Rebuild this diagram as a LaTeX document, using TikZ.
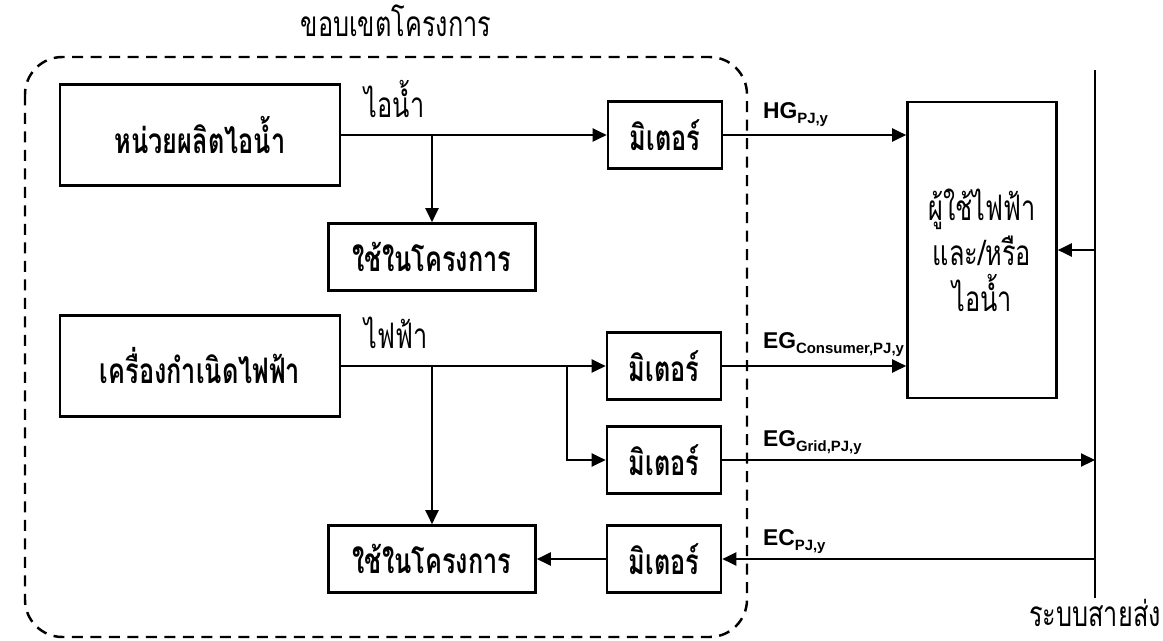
\documentclass[tikz,border=0pt]{standalone}
\usepackage{fontspec}
\setmainfont{Liberation Sans}
\newfontfamily\thaifont[Script=Thai,FakeStretch=0.72]{Loma}
\usetikzlibrary{arrows.meta}
\usetikzlibrary{calc}

\newcommand{\flowlbl}[2]{\textbf{#1\raisebox{-3pt}{\fontsize{8.5}{9}\selectfont #2}}}

\begin{document}
\begin{tikzpicture}[x=0.02cm,y=-0.02cm,line width=1.2pt,
    thai/.style={font=\thaifont\fontsize{20}{26}\selectfont},
    box/.style={draw,line width=1.5pt,inner sep=0pt,font=\thaifont\bfseries\fontsize{20}{26}\selectfont},
    bigbox/.style={box,minimum width=5.6cm,minimum height=2.02cm},
    usebox/.style={box,minimum width=4.14cm,minimum height=1.34cm},
    meter/.style={box,minimum width=2.28cm,minimum height=1.34cm},
    flow/.style={-{Triangle[length=0.28cm,width=0.26cm]}},
    border/.style={dash pattern=on 0.22cm off 0.15cm,line width=1.4pt,rounded corners=0.75cm},
    sym/.style={font=\fontsize{13}{15}\selectfont,anchor=base west,inner sep=0pt}]
    \useasboundingbox (0,0) rectangle (1163,640);

    \draw[border] (25,57) rectangle (747,637);
    \node[thai,anchor=base] (bound) at (396,36) {ขอบเขตโครงการ};

    \node[bigbox] (steam) at (200,135) {หน่วยผลิตไอน้ำ};
    \node[usebox] (use1) at (432,257) {ใช้ในโครงการ};
    \node[meter] (m1) at (665,135) {มิเตอร์};

    \node[bigbox] (gen) at (200,366) {เครื่องกำเนิดไฟฟ้า};
    \node[usebox] (use2) at (432,559) {ใช้ในโครงการ};
    \node[meter] (m2) at (664,366) {มิเตอร์};
    \node[meter] (m3) at (664,460) {มิเตอร์};
    \node[meter] (m4) at (664,559) {มิเตอร์};

    \node[draw,line width=1.5pt,minimum width=2.98cm,minimum height=5.92cm,align=center,
        font=\thaifont\fontsize{20}{26}\selectfont] (user) at (982,250) {ผู้ใช้ไฟฟ้า\\และ/หรือ\\ไอน้ำ};

    \coordinate (gtop) at (1095,70);
    \coordinate (gbot) at (1095,598);
    \draw (gtop) -- (gbot);
    \node[thai,anchor=base,inner sep=0pt] (grid) at (1095,626) {ระบบสายส่ง};

    \node[thai,anchor=base west] (steamlbl) at (358,117) {ไอน้ำ};
    \node[thai,anchor=base west] (eleclbl) at (358,348) {ไฟฟ้า};

    \draw[flow] (steam.east) -- (m1.west);
    \draw[flow] (steam.east -| use1.north) -- (use1.north);
    \draw[flow] (m1.east) -- (m1.east -| user.west);

    \draw[flow] (gen.east) -- (m2.west);
    \draw[flow] (gen.east -| use2.north) -- (use2.north);
    \coordinate (split) at (567,366);
    \draw[flow] (split) |- (m3.west);
    \draw[flow] (m2.east) -- (m2.east -| user.west);
    \draw[flow] (m3.east) -- (m3.east -| gtop);
    \draw[flow] (m4.east -| gtop) -- (m4.east);
    \draw[flow] (m4.west) -- (use2.east);
    \draw[flow] (user.east -| gtop) -- (user.east);

    \node[sym] (hg) at (762,118) {\flowlbl{HG}{PJ,y}};
    \node[sym] (egc) at (762,348) {\flowlbl{EG}{Consumer,PJ,y}};
    \node[sym] (egg) at (762,446) {\flowlbl{EG}{Grid,PJ,y}};
    \node[sym] (ec) at (762,545) {\flowlbl{EC}{PJ,y}};
\end{tikzpicture}
\end{document}
